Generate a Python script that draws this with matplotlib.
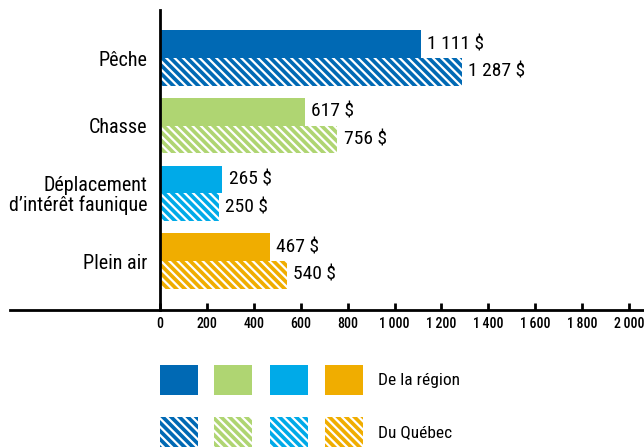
import matplotlib.pyplot as plt
from matplotlib.patches import Rectangle
from matplotlib import font_manager

# data
categories = ["Pêche", "Chasse", "Déplacement\nd\u2019intérêt faunique", "Plein air"]
region = [1111, 617, 265, 467]
quebec = [1287, 756, 250, 540]
colors = ["#0069b4", "#afd572", "#00aae8", "#f0ad00"]
ticks = list(range(0, 2001, 200))
tick_labels = ["0", "200", "400", "600", "800", "1\u2009000", "1\u2009200",
               "1\u2009400", "1\u2009600", "1\u2009800", "2\u2009000"]
legend_labels = ["De la région", "Du Québec"]

names = {f.name for f in font_manager.fontManager.ttflist}
font = "DejaVu Sans"
for cand in ["Liberation Sans Narrow", "DejaVu Sans Condensed", "Roboto Condensed"]:
    if cand in names:
        font = cand
        break
plt.rcParams['font.family'] = [font, 'DejaVu Sans']
plt.rcParams['hatch.linewidth'] = 1.6


def fmt(v):
    s = f"{v:,}".replace(",", " ")
    return s + " $"


fig = plt.figure(figsize=(6.44, 4.47), dpi=100)
ax = fig.add_axes([160 / 644, 137 / 447, 469 / 644, 300 / 447])

n = len(categories)
ypos = [n - 1 - i for i in range(n)]
h = 0.41
for i, y in enumerate(ypos):
    ax.barh(y + h / 2, region[i], height=h, color=colors[i], linewidth=0)
    ax.barh(y - h / 2, quebec[i], height=h, facecolor=colors[i], edgecolor="white",
            hatch="\\\\\\\\", linewidth=0)
    ax.text(region[i] + 28, y + h / 2, fmt(region[i]), va="center", ha="left", fontsize=14)
    ax.text(quebec[i] + 28, y - h / 2, fmt(quebec[i]), va="center", ha="left", fontsize=14)

ax.set_xlim(0, 2000)
ax.set_ylim(-0.724, 3.71)
ax.set_yticks(ypos)
ax.set_yticklabels(categories, fontsize=14.5, linespacing=1.05)
ax.tick_params(axis="y", length=0, pad=9)
ax.set_xticks(ticks)
ax.set_xticklabels(tick_labels, fontsize=10, fontweight="medium")
ax.tick_params(axis="x", direction="in", length=5, width=2, pad=5)

for s in ["top", "right", "bottom"]:
    ax.spines[s].set_visible(False)
ax.spines["left"].set_linewidth(2)

# long baseline that runs past the axes on both sides
ax.plot([-150 / 469, 1.04], [0, 0], transform=ax.transAxes, color="black",
        lw=2, clip_on=False)

# legend drawn below
box_x = [160, 214, 270, 325]
for row, (ytop, lab) in enumerate(zip([365, 417], legend_labels)):
    for bx, c in zip(box_x, colors):
        r = Rectangle((bx / 644, 1 - (ytop + 30) / 447), 38 / 644, 30 / 447,
                      transform=fig.transFigure, facecolor=c, linewidth=0,
                      edgecolor="white" if row else c, hatch="\\\\\\\\" if row else None)
        fig.patches.append(r)
    fig.text(378 / 644, 1 - (ytop + 16) / 447, lab, fontsize=12.5, va="center", ha="left")

fig.savefig("out.png", dpi=100)
